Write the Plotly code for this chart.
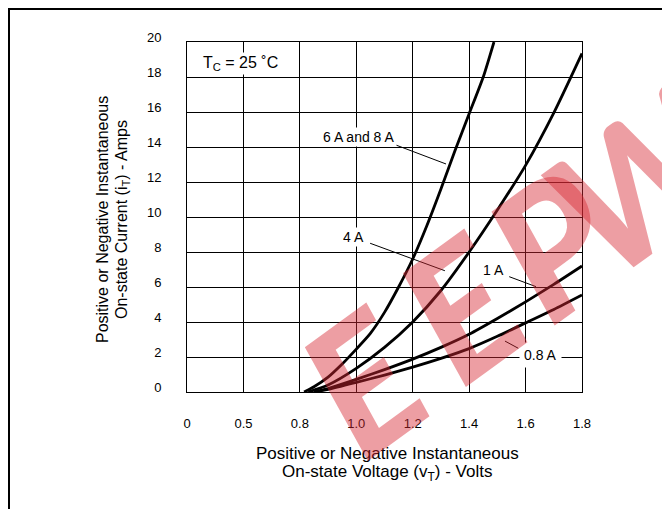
import plotly.graph_objects as go

# ---- data (volts, amps) ----
v_6a8a = [0.815, 0.85, 0.90, 0.95, 1.00, 1.05, 1.10, 1.15, 1.20, 1.25, 1.30, 1.35, 1.40, 1.45, 1.488]
i_6a8a = [0.0, 0.30, 0.85, 1.60, 2.45, 3.35, 4.55, 6.00, 7.60, 9.50, 11.6, 13.8, 15.9, 18.0, 20.0]

v_4a = [0.83, 0.90, 1.00, 1.10, 1.20, 1.30, 1.40, 1.50, 1.60, 1.70, 1.80]
i_4a = [0.0, 0.40, 1.35, 2.55, 4.00, 5.80, 8.00, 10.4, 12.95, 15.95, 19.35]

v_1a = [0.85, 0.90, 1.00, 1.10, 1.20, 1.30, 1.40, 1.50, 1.60, 1.70, 1.80]
i_1a = [0.0, 0.20, 0.72, 1.28, 1.88, 2.55, 3.30, 4.20, 5.15, 6.15, 7.20]

v_08a = [0.85, 0.90, 1.00, 1.10, 1.20, 1.30, 1.40, 1.50, 1.60, 1.70, 1.80]
i_08a = [0.0, 0.15, 0.55, 0.97, 1.42, 1.92, 2.48, 3.18, 3.95, 4.72, 5.55]

x_tickvals = [0.4, 0.6, 0.8, 1.0, 1.2, 1.4, 1.6, 1.8]
x_ticktext = ["0", "0.5", "0.8", "1.0", "1.2", "1.4", "1.6", "1.8"]
y_tickvals = [0, 2, 4, 6, 8, 10, 12, 14, 16, 18, 20]

watermark_letters = ["E", "E", "P", "W"]

FONT = "Liberation Sans, Arial, sans-serif"
WM_FONT = "Lato, DejaVu Sans, sans-serif"

fig = go.Figure()
for xs, ys in [(v_6a8a, i_6a8a), (v_4a, i_4a), (v_1a, i_1a), (v_08a, i_08a)]:
    fig.add_trace(go.Scatter(x=xs, y=ys, mode="lines",
                             line=dict(color="black", width=2.8, shape="spline", smoothing=0.6),
                             showlegend=False, hoverinfo="skip"))

# plot area in screen pixels: x 187..582, y 42..392 (page has an 8px body margin)
def paper_x(px):
    return (px - 187) / 395

def paper_y(py):
    return (392 - py) / 350

# leader lines for curve labels
leaders = [
    (1.131, 14.17, 1.318, 13.03),
    (1.049, 8.50, 1.314, 6.93),
    (1.542, 6.59, 1.637, 6.02),
    (1.527, 2.91, 1.574, 2.50),
]
shapes = []
for x0, y0, x1, y1 in leaders:
    shapes.append(dict(type="line", xref="x", yref="y", x0=x0, y0=y0, x1=x1, y1=y1,
                       line=dict(color="black", width=1)))
# outer frame
shapes.append(dict(type="rect", xref="paper", yref="paper",
                   x0=paper_x(9), x1=paper_x(665),
                   y0=paper_y(530), y1=paper_y(9),
                   line=dict(color="black", width=2), layer="above"))

annotations = []
def lab(text, x, y, size=14, pad=1):
    annotations.append(dict(text=text, x=x, y=y, xref="x", yref="y", showarrow=False,
                            font=dict(family=FONT, size=size, color="black"),
                            bgcolor="white", borderpad=pad, xanchor="center", yanchor="middle"))

lab("T<sub>C</sub> = 25 ˚C", 0.588, 18.8, 16)
lab("6 A and 8 A", 1.010, 14.57)
lab("4 A", 0.990, 8.86)
lab("1 A", 1.486, 6.97)
lab("0.8 A", 1.653, 2.11, pad=4)

def ptxt(text, px, py, angle=0, size=16):
    annotations.append(dict(text=text, x=paper_x(px), y=paper_y(py),
                            xref="paper", yref="paper", showarrow=False, textangle=angle,
                            font=dict(family=FONT, size=size, color="black"),
                            xanchor="center", yanchor="middle"))

ptxt("Positive or Negative Instantaneous", 387, 453, size=17)
ptxt("On-state Voltage (v<sub>T</sub>) - Volts", 387, 473, size=17)
ptxt("Positive or Negative Instantaneous", 102, 220, angle=-90, size=16)
ptxt("On-state Current (i<sub>T</sub>) - Amps", 122, 220, angle=-90, size=16)

# watermark letters (screen-pixel centres)
wm_pos = [(362, 380), (460, 306), (552, 242), (642, 176)]
for ch, (px, py) in zip(watermark_letters, wm_pos):
    annotations.append(dict(text=ch, x=paper_x(px), y=paper_y(py),
                            xref="paper", yref="paper", showarrow=False, textangle=-36,
                            font=dict(family=WM_FONT, size=178, color="rgba(215,40,50,0.45)",
                                      weight=900, style="italic"),
                            xanchor="center", yanchor="middle"))

fig.update_layout(
    width=662, height=501, autosize=False,
    margin=dict(l=179, r=88, t=34, b=117),
    paper_bgcolor="white", plot_bgcolor="white",
    font=dict(family=FONT, size=13, color="black"),
    shapes=shapes, annotations=annotations,
    xaxis=dict(range=[0.4, 1.8], tickvals=x_tickvals, ticktext=x_ticktext,
               showgrid=True, gridcolor="black", gridwidth=1,
               showline=True, linecolor="black", linewidth=1, mirror=True,
               ticks="", ticklabelstandoff=19, zeroline=False,
               tickfont=dict(family=FONT, size=13, color="black")),
    yaxis=dict(range=[0, 20], tickvals=y_tickvals,
               showgrid=True, gridcolor="black", gridwidth=1,
               showline=True, linecolor="black", linewidth=1, mirror=True,
               ticks="", ticklabelstandoff=22, ticklabelshift=-5, zeroline=False,
               tickfont=dict(family=FONT, size=13, color="black")),
)

fig.write_html("out.html")
